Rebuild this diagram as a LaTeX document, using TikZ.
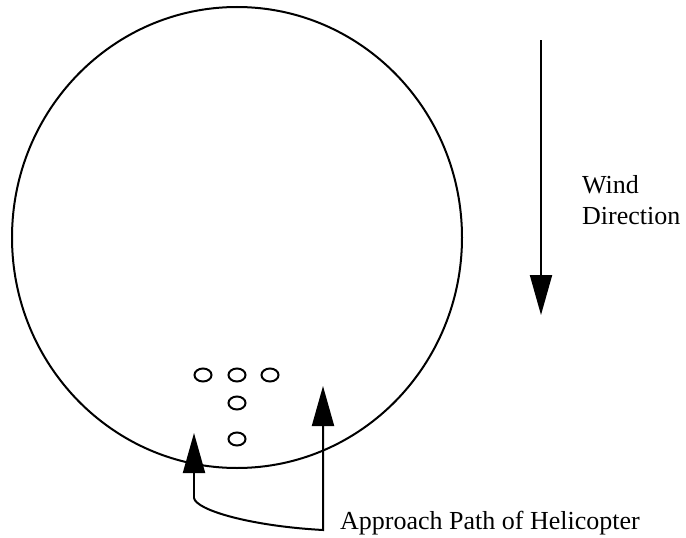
\documentclass[tikz,border=0pt]{standalone}
\usepackage{fontspec}
\setmainfont{Liberation Serif}
\usepackage{tikz}
\usetikzlibrary{shapes.geometric, arrows.meta, positioning}
\tikzstyle{pad} = [ellipse, draw=black, line width=2pt, minimum width=17pt, minimum height=13pt, inner sep=0pt]
\tikzstyle{caption} = [inner sep=0pt, font=\fontsize{26}{31}\selectfont]
\tikzstyle{arrow} = [line width=2pt, -{Triangle[length=40pt,width=22pt]}]

\begin{document}
\begin{tikzpicture}[x=1pt, y=-1pt]
    \useasboundingbox (0,0) rectangle (686,538);
    % landing area
    \draw[line width=2pt] (237,237.5) ellipse [x radius=225, y radius=230.5];

    \node (pad1) [pad] at (203,375) {};
    \node (pad2) [pad] at (237,375) {};
    \node (pad3) [pad] at (270,375) {};
    \node (pad4) [pad] at (237,403) {};
    \node (pad5) [pad] at (237,439) {};

    % wind
    \coordinate (windtop) at (541,40);
    \coordinate (windtip) at (541,315);
    \draw[arrow] (windtop) -- (windtip);
    \node (wind) [caption, align=left, anchor=north west] at (582,175) {Wind\\Direction};

    % approach path
    \coordinate (lefttip) at (194,433);
    \coordinate (bend) at (194,498);
    \coordinate (corner) at (323,530);
    \coordinate (righttip) at (323,386);
    \draw[arrow] (bend) -- (lefttip);
    \draw[arrow] (bend) .. controls (196,510) and (250,526) .. (corner) -- (righttip);
    \node (approach) [caption, anchor=base west] at (340,529) {Approach Path of Helicopter};

\end{tikzpicture}
\end{document}
